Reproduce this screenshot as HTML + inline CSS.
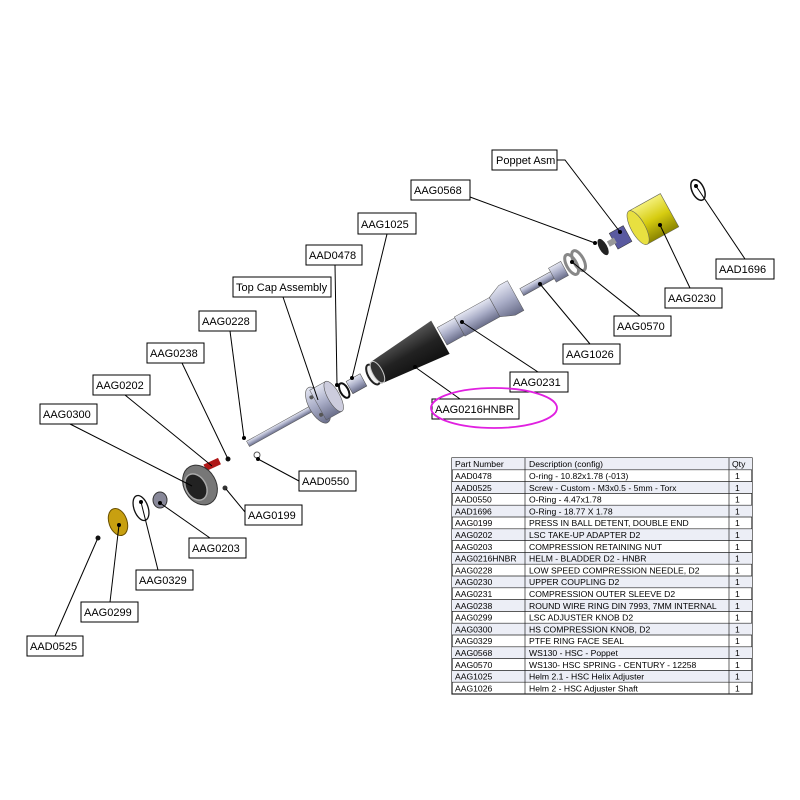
<!DOCTYPE html>
<html><head><meta charset="utf-8"><style>
body{margin:0;background:#fff;}
svg{display:block;font-family:"Liberation Sans",sans-serif;}
</style></head><body>
<svg width="800" height="800" viewBox="0 0 800 800" xmlns="http://www.w3.org/2000/svg">
<defs>
<linearGradient id="g1" x1="0" y1="0" x2="0" y2="1"><stop offset="0" stop-color="#e4e6f2"/><stop offset="0.5" stop-color="#a8acc6"/><stop offset="1" stop-color="#6a6e8a"/></linearGradient>
<linearGradient id="gb" x1="0" y1="0" x2="0" y2="1"><stop offset="0" stop-color="#555"/><stop offset="0.5" stop-color="#222"/><stop offset="1" stop-color="#111"/></linearGradient>
<linearGradient id="gy" x1="0" y1="0" x2="0" y2="1"><stop offset="0" stop-color="#f4f07a"/><stop offset="0.5" stop-color="#d6cc10"/><stop offset="1" stop-color="#8a8400"/></linearGradient>
</defs>
<g transform="translate(255,440) rotate(-29)">
  <rect x="-8" y="-3" width="75" height="6" fill="url(#g1)" stroke="#555" stroke-width="0.5"/>
  <ellipse cx="72" cy="0" rx="9" ry="20" fill="url(#g1)" stroke="#555" stroke-width="0.6"/>
  <circle cx="70" cy="-10" r="2" fill="#555"/><circle cx="70" cy="10" r="2" fill="#555"/>
  <rect x="72" y="-17" width="18" height="34" fill="url(#g1)" stroke="#555" stroke-width="0.5"/>
  <ellipse cx="90" cy="0" rx="6" ry="17" fill="#ccd" stroke="#555" stroke-width="0.6"/>
  <ellipse cx="102" cy="0" rx="4" ry="8" fill="none" stroke="#111" stroke-width="2"/>
  <rect x="108" y="-7" width="16" height="14" fill="url(#g1)" stroke="#444" stroke-width="0.5"/>
  <ellipse cx="135" cy="0" rx="5" ry="11" fill="#eee" stroke="#222" stroke-width="2"/>
  <path d="M138,-12 L212,-19 L212,19 L138,12 Z" fill="url(#gb)"/>
  <ellipse cx="140" cy="0" rx="5" ry="12" fill="#333" stroke="#ccc" stroke-width="1"/>
  <rect x="214" y="-10" width="20" height="20" fill="url(#g1)" stroke="#555" stroke-width="0.5"/>
  <rect x="234" y="-11" width="40" height="22" fill="url(#g1)" stroke="#555" stroke-width="0.5"/>
  <path d="M274,-11 L288,-17 L298,-17 L298,17 L288,17 L274,11Z" fill="url(#g1)" stroke="#555" stroke-width="0.5"/>
  <rect x="305" y="-4" width="40" height="8" fill="url(#g1)" stroke="#555" stroke-width="0.5"/>
  <rect x="340" y="-8" width="14" height="16" fill="url(#g1)" stroke="#555" stroke-width="0.5"/>
  <ellipse cx="362" cy="0" rx="5" ry="11" fill="none" stroke="#888" stroke-width="3"/>
  <ellipse cx="370" cy="0" rx="5" ry="11" fill="none" stroke="#888" stroke-width="3"/>
  <ellipse cx="398" cy="0" rx="4" ry="9" fill="#222"/>
  <rect x="410" y="-9" width="16" height="18" fill="#5a5aa0" stroke="#333" stroke-width="0.5"/>
  <rect x="404" y="-3" width="8" height="6" fill="#999"/>
  <rect x="438" y="-19" width="36" height="38" fill="url(#gy)" stroke="#665" stroke-width="0.6"/>
  <ellipse cx="438" cy="0" rx="7" ry="19" fill="#e8e040" stroke="#665" stroke-width="0.6"/>
</g>
<ellipse cx="698" cy="190" rx="6" ry="11" transform="rotate(-25 698 190)" fill="none" stroke="#111" stroke-width="1.5"/>
<circle cx="228" cy="459" r="2.5" fill="#111"/>
<rect x="204" y="461" width="16" height="7" fill="#b01818" transform="rotate(-25 212 464)"/>
<ellipse cx="200" cy="485" rx="16" ry="21" transform="rotate(-30 200 485)" fill="#777" stroke="#333" stroke-width="1"/>
<ellipse cx="196" cy="487" rx="10" ry="14" transform="rotate(-30 196 487)" fill="#222" stroke="#aaa" stroke-width="1.5"/>
<circle cx="257" cy="455" r="3" fill="none" stroke="#555"/>
<circle cx="225" cy="488" r="2.5" fill="#333"/>
<ellipse cx="160" cy="500" rx="7" ry="8" fill="#889" stroke="#333"/>
<ellipse cx="141" cy="508" rx="7" ry="13" transform="rotate(-20 141 508)" fill="none" stroke="#111" stroke-width="1.3"/>
<ellipse cx="118" cy="522" rx="9" ry="14" transform="rotate(-20 118 522)" fill="#c8a010" stroke="#6a5000"/>
<circle cx="98" cy="538" r="2.5" fill="#111"/>
<g stroke="#000" stroke-width="1" fill="none">
<polyline points="557,160 565,160 620,232"/>
<line x1="470" y1="197" x2="595" y2="243"/>
<line x1="387" y1="234" x2="352" y2="378"/>
<line x1="335" y1="265" x2="337" y2="385"/>
<line x1="283" y1="297" x2="318" y2="400"/>
<line x1="230" y1="331" x2="244" y2="438"/>
<line x1="182" y1="363" x2="228" y2="459"/>
<line x1="125" y1="395" x2="212" y2="466"/>
<line x1="70" y1="424" x2="192" y2="486"/>
<line x1="745" y1="259" x2="696" y2="186"/>
<line x1="690" y1="288" x2="660" y2="225"/>
<line x1="640" y1="316" x2="572" y2="262"/>
<line x1="590" y1="344" x2="540" y2="284"/>
<line x1="538" y1="372" x2="462" y2="322"/>
<line x1="460" y1="399" x2="415" y2="367"/>
<line x1="299" y1="481" x2="258" y2="459"/>
<line x1="245" y1="512" x2="226" y2="489"/>
<line x1="210" y1="538" x2="160" y2="503"/>
<line x1="158" y1="570" x2="141" y2="502"/>
<line x1="110" y1="602" x2="119" y2="525"/>
<line x1="55" y1="636" x2="97" y2="540"/>
</g>
<g fill="#000">
<circle cx="620" cy="232" r="2"/><circle cx="595" cy="243" r="2"/><circle cx="352" cy="378" r="2"/><circle cx="337" cy="385" r="2"/><circle cx="244" cy="438" r="2"/><circle cx="660" cy="225" r="2"/><circle cx="572" cy="262" r="2"/><circle cx="540" cy="284" r="2"/><circle cx="462" cy="322" r="2"/><circle cx="415" cy="367" r="2"/><circle cx="258" cy="459" r="2"/><circle cx="160" cy="503" r="2"/><circle cx="141" cy="502" r="2"/><circle cx="119" cy="525" r="2"/><circle cx="696" cy="186" r="2"/>
</g>
<g font-size="11" fill="#000">
<g fill="#fff" stroke="#000" stroke-width="1">
<rect x="492" y="150" width="65" height="20"/><rect x="411" y="180" width="59" height="20"/><rect x="358" y="213" width="58" height="21"/><rect x="306" y="245" width="56" height="20"/><rect x="233" y="277" width="98" height="20"/><rect x="199" y="311" width="57" height="20"/><rect x="147" y="343" width="57" height="20"/><rect x="93" y="375" width="57" height="20"/><rect x="40" y="404" width="57" height="20"/><rect x="716" y="259" width="58" height="20"/><rect x="665" y="288" width="57" height="20"/><rect x="614" y="316" width="57" height="20"/><rect x="563" y="344" width="57" height="20"/><rect x="510" y="372" width="58" height="20"/><rect x="432" y="399" width="87" height="20"/><rect x="299" y="471" width="57" height="20"/><rect x="245" y="505" width="57" height="20"/><rect x="189" y="538" width="57" height="20"/><rect x="136" y="570" width="57" height="20"/><rect x="81" y="602" width="57" height="20"/><rect x="27" y="636" width="56" height="20"/>
</g>
<text x="496" y="164">Poppet Asm</text><text x="414" y="194">AAG0568</text><text x="361" y="228">AAG1025</text><text x="309" y="259">AAD0478</text><text x="236" y="291">Top Cap Assembly</text><text x="202" y="325">AAG0228</text><text x="150" y="357">AAG0238</text><text x="96" y="389">AAG0202</text><text x="43" y="418">AAG0300</text><text x="719" y="273">AAD1696</text><text x="668" y="302">AAG0230</text><text x="617" y="330">AAG0570</text><text x="566" y="358">AAG1026</text><text x="513" y="386">AAG0231</text><text x="435" y="413">AAG0216HNBR</text><text x="302" y="485">AAD0550</text><text x="248" y="519">AAG0199</text><text x="192" y="552">AAG0203</text><text x="139" y="584">AAG0329</text><text x="84" y="616">AAG0299</text><text x="30" y="650">AAD0525</text>
</g>
<ellipse cx="494" cy="408" rx="63" ry="20" fill="none" stroke="#e020e0" stroke-width="1.8"/>
<g font-size="8.6" fill="#000">
<rect x="452" y="458" width="300" height="236" fill="#fff" stroke="#222" stroke-width="1.2"/>
<g fill="#eceef6">
<rect x="452" y="458" width="300" height="11.8"/><rect x="452" y="481.6" width="300" height="11.8"/><rect x="452" y="505.2" width="300" height="11.8"/><rect x="452" y="528.8" width="300" height="11.8"/><rect x="452" y="552.4" width="300" height="11.8"/><rect x="452" y="576" width="300" height="11.8"/><rect x="452" y="599.6" width="300" height="11.8"/><rect x="452" y="623.2" width="300" height="11.8"/><rect x="452" y="646.8" width="300" height="11.8"/><rect x="452" y="670.4" width="300" height="11.8"/>
</g>
<g stroke="#222" stroke-width="0.7">
<line x1="525" y1="458" x2="525" y2="694"/><line x1="729" y1="458" x2="729" y2="694"/>
<line x1="452" y1="469.8" x2="752" y2="469.8"/><line x1="452" y1="481.6" x2="752" y2="481.6"/><line x1="452" y1="493.4" x2="752" y2="493.4"/><line x1="452" y1="505.2" x2="752" y2="505.2"/><line x1="452" y1="517" x2="752" y2="517"/><line x1="452" y1="528.8" x2="752" y2="528.8"/><line x1="452" y1="540.6" x2="752" y2="540.6"/><line x1="452" y1="552.4" x2="752" y2="552.4"/><line x1="452" y1="564.2" x2="752" y2="564.2"/><line x1="452" y1="576" x2="752" y2="576"/><line x1="452" y1="587.8" x2="752" y2="587.8"/><line x1="452" y1="599.6" x2="752" y2="599.6"/><line x1="452" y1="611.4" x2="752" y2="611.4"/><line x1="452" y1="623.2" x2="752" y2="623.2"/><line x1="452" y1="635" x2="752" y2="635"/><line x1="452" y1="646.8" x2="752" y2="646.8"/><line x1="452" y1="658.6" x2="752" y2="658.6"/><line x1="452" y1="670.4" x2="752" y2="670.4"/><line x1="452" y1="682.2" x2="752" y2="682.2"/>
</g>
<g>
<text x="455" y="467">Part Number</text><text x="529" y="467">Description (config)</text><text x="732" y="467">Qty</text>
<text x="455" y="479">AAD0478</text><text x="529" y="479">O-ring - 10.82x1.78 (-013)</text>
<text x="455" y="490.8">AAD0525</text><text x="529" y="490.8">Screw - Custom - M3x0.5 - 5mm - Torx</text>
<text x="455" y="502.6">AAD0550</text><text x="529" y="502.6">O-Ring - 4.47x1.78</text>
<text x="455" y="514.4">AAD1696</text><text x="529" y="514.4">O-Ring - 18.77 X 1.78</text>
<text x="455" y="526.2">AAG0199</text><text x="529" y="526.2">PRESS IN BALL DETENT, DOUBLE END</text>
<text x="455" y="538">AAG0202</text><text x="529" y="538">LSC TAKE-UP ADAPTER D2</text>
<text x="455" y="549.8">AAG0203</text><text x="529" y="549.8">COMPRESSION RETAINING NUT</text>
<text x="455" y="561.6">AAG0216HNBR</text><text x="529" y="561.6">HELM - BLADDER  D2 - HNBR</text>
<text x="455" y="573.4">AAG0228</text><text x="529" y="573.4">LOW SPEED COMPRESSION NEEDLE, D2</text>
<text x="455" y="585.2">AAG0230</text><text x="529" y="585.2">UPPER COUPLING D2</text>
<text x="455" y="597">AAG0231</text><text x="529" y="597">COMPRESSION OUTER SLEEVE D2</text>
<text x="455" y="608.8">AAG0238</text><text x="529" y="608.8">ROUND WIRE RING DIN 7993, 7MM INTERNAL</text>
<text x="455" y="620.6">AAG0299</text><text x="529" y="620.6">LSC ADJUSTER KNOB D2</text>
<text x="455" y="632.4">AAG0300</text><text x="529" y="632.4">HS COMPRESSION KNOB, D2</text>
<text x="455" y="644.2">AAG0329</text><text x="529" y="644.2">PTFE RING FACE SEAL</text>
<text x="455" y="656">AAG0568</text><text x="529" y="656">WS130 - HSC - Poppet</text>
<text x="455" y="667.8">AAG0570</text><text x="529" y="667.8">WS130- HSC SPRING - CENTURY - 12258</text>
<text x="455" y="679.6">AAG1025</text><text x="529" y="679.6">Helm 2.1 - HSC Helix Adjuster</text>
<text x="455" y="691.4">AAG1026</text><text x="529" y="691.4">Helm 2 - HSC Adjuster Shaft</text>
</g>
<g><text x="735" y="479">1</text><text x="735" y="490.8">1</text><text x="735" y="502.6">1</text><text x="735" y="514.4">1</text><text x="735" y="526.2">1</text><text x="735" y="538">1</text><text x="735" y="549.8">1</text><text x="735" y="561.6">1</text><text x="735" y="573.4">1</text><text x="735" y="585.2">1</text><text x="735" y="597">1</text><text x="735" y="608.8">1</text><text x="735" y="620.6">1</text><text x="735" y="632.4">1</text><text x="735" y="644.2">1</text><text x="735" y="656">1</text><text x="735" y="667.8">1</text><text x="735" y="679.6">1</text><text x="735" y="691.4">1</text></g>
</g>
</svg>
</body></html>
